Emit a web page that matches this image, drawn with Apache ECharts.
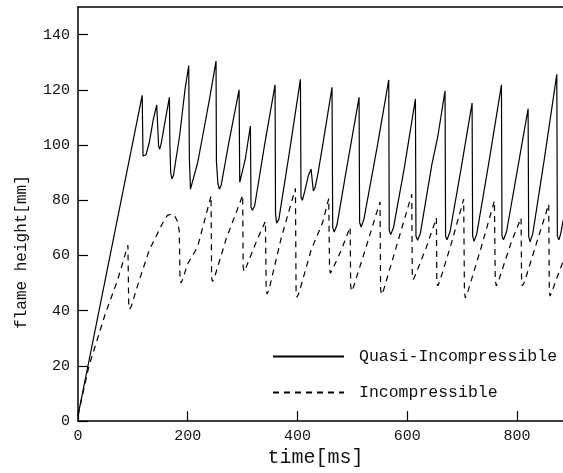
<!DOCTYPE html>
<html>
<head>
<meta charset="utf-8">
<script src="https://cdn.jsdelivr.net/npm/echarts@6/dist/echarts.min.js"></script>
<style>html,body{margin:0;padding:0;background:#fff}#c{width:563px;height:473px}</style>
</head>
<body>
<div id="c"></div>
<script>
// ---- data (time [ms], flame height [mm]) ----
const xTicks = [0, 200, 400, 600, 800];
const yTicks = [0, 20, 40, 60, 80, 100, 120, 140];
const quasiTime = [0,117,118.5,121,124,130,137,143.5,145,147,149,152,160,166.6,167.5,169,171,174,185,195,201.8,203,205,208,218,227,240,251.6,252.3,255,257.7,261,275,293.6,294.8,297,305,314.2,315.4,318,322,340,359.2,360,362,366,385,405.4,406.5,409,413,420,424.8,427,429,432,437,446,455,463,464.3,467,472,490,512.3,513.3,516,521,545,566.4,567.3,570,575,595,615,616,619,624,645,655.7,669,670,672.5,678,697,718.3,719.3,722,727,750,771.8,772.8,775.5,781,800,820.4,821.4,824,829,850,872.7,873.7,876.5,880,884];
const quasiHeight = [2,118,96,95.5,96.5,101,109,114.5,108,99.5,98.5,101,110,117.3,100,90,87.7,89,103,120,128.8,95,84,84.5,93.5,103,117,130.4,94,86,84,85.5,101,120,86.5,86,95,106.9,77.5,76.4,78,100,121.8,75,71.7,73,97,123.8,81,80,83,89,91.3,87,83.4,84.5,89.3,100,111,120.9,70,68.5,71,92,117.3,72,70.3,73,99,123.6,69,67.6,70,92,116.7,67,65.5,68,93,103,119.6,67,65.7,68.5,90,115.2,67,65.1,68,95,121.8,67,65.7,68.5,90,113.1,67,64.9,68,95,125.6,67,65.7,68,72.6];
const incompTime = [0,20,50,72,91,92.4,94,97,110,130,145,155,163,170,176,181,184.5,186,187.5,190,200,218,242.5,243.5,245,248,270,300.2,301,302.5,306,325,341.6,343,344.5,348,370,396.3,397.5,399,403,425,446,457,458.5,460,464,480,496,497,498.5,502,525,550.5,551.5,553,557,580,608.3,609.3,611,615,635,653.3,654,656,660,680,703,704.3,706,710,735,759,760.5,762.5,766,790,807.6,808.5,810,814,835,858,859,860.5,864,875,884];
const incompHeight = [2,20,39,51,63.7,42,40.5,41.5,50,62,68,72,74.5,75,74.5,72.5,69,52,50,51,57,63.1,81.6,52,50.6,51.5,66,81.8,56,54.2,55.5,65,72.4,48,46,47.5,66,84.3,47,44.9,46.5,62,72,80.6,55,53.6,55,62,70.3,49,47,48.5,63,79.4,48,45.8,47.5,63,82.1,53,51.2,53,63,73.6,50,49,51,64,80.4,47,44.6,46.5,63,79.8,51,49,50.5,65,73.6,50,49,50.5,64,78.6,47,45.3,47,53,57.7];
const seriesNames = ['Quasi-Incompressible', 'Incompressible'];

const pair = (xs, ys) => xs.map((x, i) => [x, ys[i]]);
const FONT = 'Liberation Mono';

const chart = echarts.init(document.getElementById('c'), null, {renderer: 'canvas'});
chart.setOption({
  animation: false,
  backgroundColor: '#fff',
  grid: {left: 78, right: 0, top: 7, bottom: 46},
  legend: {
    orient: 'vertical', left: 267, top: 343,
    itemWidth: 71, itemHeight: 14, itemGap: 19,
    itemStyle: {opacity: 0},
    textStyle: {fontFamily: FONT, fontSize: 16.5, color: '#111', padding: [0, 0, 0, 10]},
    data: seriesNames
  },
  xAxis: [{
    type: 'value', min: 0, max: 884, interval: 200,
    name: 'time[ms]', nameLocation: 'middle', nameGap: 24,
    nameTextStyle: {fontFamily: FONT, fontSize: 20, color: '#111', padding: [0, 10, 0, 0]},
    axisLine: {show: true, onZero: false, lineStyle: {color: '#000', width: 1.5}},
    axisTick: {show: true, inside: true, length: 10, lineStyle: {color: '#000', width: 1.2}},
    axisLabel: {fontFamily: FONT, fontSize: 15, color: '#111', margin: 7, showMaxLabel: false,
      formatter: v => xTicks.includes(v) ? String(v) : ''},
    splitLine: {show: false}
  }, {
    type: 'value', min: 0, max: 884, position: 'top',
    axisLine: {show: true, onZero: false, lineStyle: {color: '#000', width: 1.5}},
    axisTick: {show: false}, axisLabel: {show: false}, splitLine: {show: false}
  }],
  yAxis: {
    type: 'value', min: 0, max: 150, interval: 20,
    name: 'flame height[mm]', nameLocation: 'middle', nameGap: 48, nameRotate: 90,
    nameTextStyle: {fontFamily: FONT, fontSize: 16, color: '#111', padding: [0, 76, 0, 0]},
    axisLine: {show: true, onZero: false, lineStyle: {color: '#000', width: 1.5}},
    axisTick: {show: true, inside: true, length: 10, lineStyle: {color: '#000', width: 1.2}},
    axisLabel: {fontFamily: FONT, fontSize: 15, color: '#111', margin: 8, showMaxLabel: false,
      formatter: v => yTicks.includes(v) ? String(v) : ''},
    splitLine: {show: false}
  },
  series: [{
    name: seriesNames[0], type: 'line', symbol: 'none', smooth: false,
    lineStyle: {color: '#000', width: 1.2, type: 'solid'},
    itemStyle: {color: '#000'},
    data: pair(quasiTime, quasiHeight)
  }, {
    name: seriesNames[1], type: 'line', symbol: 'none', smooth: false,
    lineStyle: {color: '#000', width: 1.2, type: [6, 5]},
    itemStyle: {color: '#000'},
    data: pair(incompTime, incompHeight)
  }]
});
</script>
</body>
</html>
